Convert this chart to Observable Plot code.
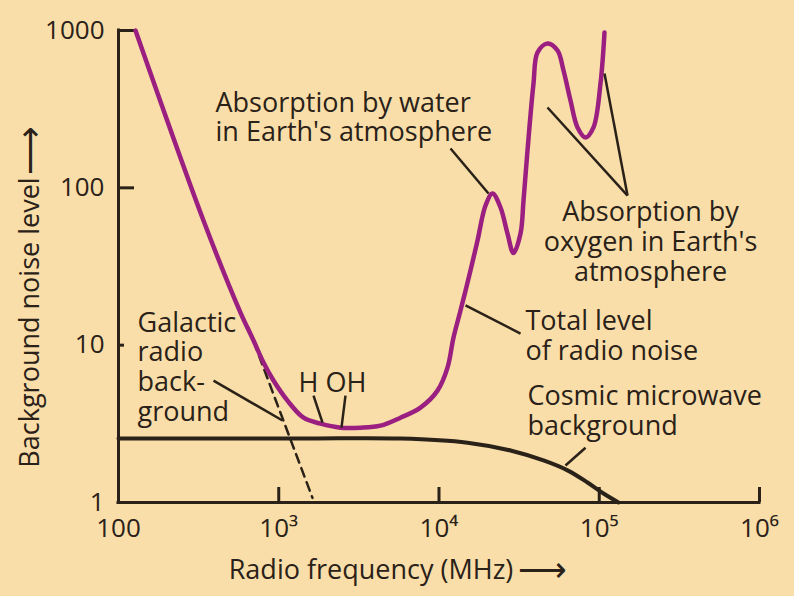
<!DOCTYPE html>
<html><head><meta charset="utf-8">
<script src="https://cdn.jsdelivr.net/npm/d3@7"></script>
<script src="https://cdn.jsdelivr.net/npm/@observablehq/plot@0.6"></script>
<style>
html,body{margin:0;padding:0;background:#f9dea9;}
#chart{width:794px;height:596px;overflow:hidden;}
</style></head><body><div id="chart"></div>
<script>
// Total level of radio noise (purple curve)
const totalFreq  = [127.7, 339, 577, 696, 803, 927, 1134, 1427, 1822, 2428, 3237, 4313, 5749, 7665, 9786, 11300, 12320, 13620, 14640, 15720, 17390, 19510, 21570, 24200, 26760, 29160, 32260, 33680, 35670, 38880, 41180, 47550, 54900, 59840, 66160, 73170, 82100, 92060, 101800, 107800];
const totalLevel = [1000, 62, 16.1, 10.7, 7.75, 5.96, 4.44, 3.46, 3.17, 2.99, 2.99, 3.08, 3.46, 4.01, 5.14, 7.2, 11.2, 16.6, 22.2, 29.8, 46.2, 77.2, 92, 75, 51.2, 38.5, 51.2, 83, 173, 460, 725, 827, 746, 557, 359, 242, 209, 242, 460, 971];
// Cosmic microwave background
const cmbFreq  = [100, 1367, 5749, 15060, 27950, 44880, 63380, 84480, 106300, 131900];
const cmbLevel = [2.55, 2.55, 2.55, 2.40, 2.14, 1.85, 1.60, 1.34, 1.14, 1.0];
// Galactic radio background (dashed)
const galFreq  = [647, 1624];
const galLevel = [12.9, 1.07];
// Leader lines
const leadX1 = [11800, 47550, 107800, 32260, 82100, 391.6, 1648, 2609];
const leadY1 = [178, 324, 533, 11.85, 2.23, 5.95, 4.78, 4.78];
const leadX2 = [20370, 150100, 150100, 14640, 61560, 1055, 1875, 2464];
const leadY2 = [92, 89.3, 89.3, 17.9, 1.72, 3.32, 3.22, 2.99];
// Annotations
const labelText = ["Absorption by water\nin Earth's atmosphere", "Absorption by\noxygen in Earth's\natmosphere", "Total level\nof radio noise", "Cosmic microwave\nbackground", "Galactic\nradio\nback-\nground", "H OH"];
const labelX = [403, 208800, 34650, 35670, 131.4, 1328];
const labelY = [281.8, 45.6, 11.5, 3.84, 7.31, 5.78];
const labelAnchor = ["start", "middle", "start", "start", "start", "start"];
// Axes
const xTicks = [100, 1e3, 1e4, 1e5, 1e6];
const xTickMarks = [1e3, 1e4, 1e5, 1e6];
const yTicks = [1, 10, 100, 1000];
const yTickMarksLong = [100, 1000];
const yTickMarksShort = [10];
const xTitle = "Radio frequency (MHz)";
const yTitle = "Background noise level";
const arrow = "\u27f6";

const ink = "#2a2118";
const purple = "#9a1f80";
const font = "'Open Sans', 'Noto Sans', sans-serif";
const sup = {"3": "\u00b3", "4": "\u2074", "5": "\u2075", "6": "\u2076"};
const fmtX = d => d === 100 ? "100" : "10" + sup[String(Math.round(Math.log10(d)))];

const total = totalFreq.map((f, i) => ({f, v: totalLevel[i]}));
const cmb = cmbFreq.map((f, i) => ({f, v: cmbLevel[i]}));
const gal = galFreq.map((f, i) => ({f, v: galLevel[i]}));
const leads = leadX1.map((x, i) => ({x1: x, y1: leadY1[i], x2: leadX2[i], y2: leadY2[i]}));
const labels = labelText.map((t, i) => ({t, x: labelX[i], y: labelY[i], a: labelAnchor[i]}));
const textOpts = {x: "x", y: "y", text: "t", lineAnchor: "middle", lineHeight: 1.1, fontSize: 27, fill: ink};

const chart = Plot.plot({
  width: 794, height: 596,
  marginLeft: 118, marginRight: 35, marginTop: 30, marginBottom: 94,
  style: {background: "#f9dea9", fontFamily: font, color: ink},
  x: {type: "log", domain: [100, 1e6]},
  y: {type: "log", domain: [1, 1000]},
  marks: [
    Plot.axisX({ticks: xTickMarks, tickSize: -15, fill: "none", stroke: ink, strokeWidth: 3, label: null}),
    Plot.axisY({ticks: yTickMarksLong, tickSize: -16, fill: "none", stroke: ink, strokeWidth: 3, label: null}),
    Plot.axisY({ticks: yTickMarksShort, tickSize: -6, fill: "none", stroke: ink, strokeWidth: 3, label: null}),
    Plot.axisX({ticks: xTicks, tickSize: 0, tickPadding: 16, tickFormat: fmtX, label: null, fontSize: 26, fill: ink}),
    Plot.axisY({ticks: yTicks, tickSize: 0, tickPadding: 14, tickFormat: d3.format("d"), label: null, fontSize: 26, fill: ink}),
    Plot.ruleX([xTicks[0]], {y1: yTicks[0], y2: yTicks[yTicks.length - 1], stroke: ink, strokeWidth: 3, strokeLinecap: "square"}),
    Plot.ruleY([yTicks[0]], {x1: xTicks[0], x2: xTicks[xTicks.length - 1], stroke: ink, strokeWidth: 3, strokeLinecap: "square"}),
    Plot.line(gal, {x: "f", y: "v", stroke: ink, strokeWidth: 2.5, strokeDasharray: "9,6"}),
    Plot.line(cmb, {x: "f", y: "v", stroke: ink, strokeWidth: 4, curve: "catmull-rom"}),
    Plot.line(total, {x: "f", y: "v", stroke: purple, strokeWidth: 4.5, curve: "catmull-rom"}),
    Plot.link(leads, {x1: "x1", y1: "y1", x2: "x2", y2: "y2", stroke: ink, strokeWidth: 2.5}),
    Plot.text(labels.filter(d => d.a === "start"), {...textOpts, textAnchor: "start"}),
    Plot.text(labels.filter(d => d.a === "middle"), {...textOpts, textAnchor: "middle"}),
    Plot.text([xTitle], {frameAnchor: "bottom", textAnchor: "middle", lineAnchor: "middle", dx: -68, dy: 68, fontSize: 27, fill: ink}),
    Plot.text([arrow], {frameAnchor: "bottom", textAnchor: "middle", lineAnchor: "middle", dx: 103, dy: 68, fontSize: 34, fill: ink}),
    Plot.text([yTitle], {frameAnchor: "left", textAnchor: "middle", lineAnchor: "middle", rotate: -90, dx: -88, dy: 56, fontSize: 27, fill: ink}),
    Plot.text([arrow], {frameAnchor: "left", textAnchor: "middle", lineAnchor: "middle", rotate: -90, dx: -88, dy: -116, fontSize: 34, fill: ink})
  ]
});
document.getElementById("chart").appendChild(chart);
</script>
</body></html>
